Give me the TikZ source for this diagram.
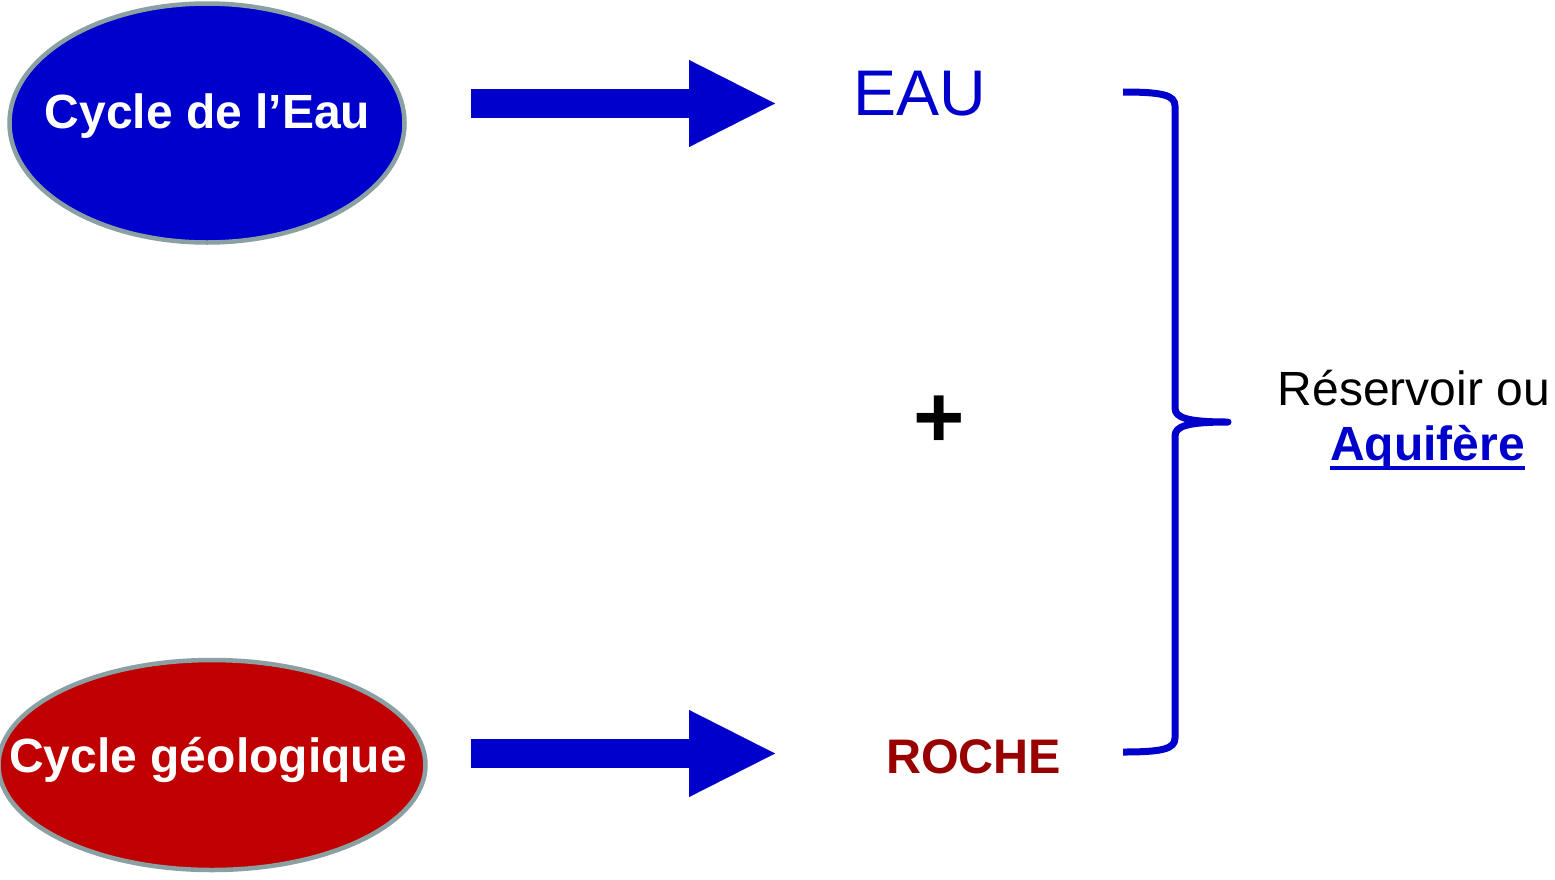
\documentclass[tikz,border=0pt]{standalone}
\usepackage{fontspec}
\setmainfont{Liberation Sans}
\usepackage{tikz}
\usetikzlibrary{shapes.geometric, arrows.meta}

\definecolor{cycblue}{RGB}{0,0,204}
\definecolor{cycred}{RGB}{192,0,0}
\definecolor{rochered}{RGB}{153,0,0}
\definecolor{rimgray}{RGB}{138,160,162}

\begin{document}
\begin{tikzpicture}[x=1pt, y=-1pt,
  cycle/.style={ellipse, draw=rimgray, line width=4.5pt, inner sep=0pt},
  cyclelabel/.style={text=white, font=\bfseries\fontsize{48}{50}\selectfont, inner sep=0pt, anchor=base},
  word/.style={inner sep=0pt, anchor=base west},
  bigarrow/.style={cycblue, line width=29pt, -{Triangle[length=86pt, width=87pt, line width=0.2pt]}}]
  \useasboundingbox (0,0) rectangle (1555,879);

  % the two cycles
  \node[cycle, fill=cycblue, minimum width=395pt, minimum height=239pt] (eau) at (207,123) {};
  \node[cycle, fill=cycred, minimum width=427pt, minimum height=210pt] (geo) at (212,765) {};
  \node[cyclelabel] (eaulbl) at ([xshift=0.5pt, yshift=-5pt]eau.center) {Cycle de l’Eau};
  \node[cyclelabel] (geolbl) at ([xshift=-4pt, yshift=-7pt]geo.center) {Cycle géologique};

  % block arrows
  \coordinate (eauout) at (471,103.5);
  \coordinate (eauin) at (775,103.5);
  \coordinate (geoout) at (471,753.5);
  \coordinate (geoin) at (775,753.5);
  \draw[bigarrow] (eauout) -- (eauin);
  \draw[bigarrow] (geoout) -- (geoin);

  \node[word, text=cycblue, font=\fontsize{64.5}{70}\selectfont] (water) at (853,115) {EAU};
  \node[word, text=rochered, font=\bfseries\fontsize{48.5}{54}\selectfont] (rock) at (886,773) {ROCHE};
  \node[inner sep=0pt, anchor=base, font=\bfseries\fontsize{88}{90}\selectfont] (plus) at (939.5,447) {+};

  % brace
  \draw[cycblue, line width=7pt, line join=round]
    (1123,92) .. controls (1162,92) and (1175,95) .. (1175,106) -- (1175,408)
    .. controls (1175,418) and (1188,422) .. (1228,422)
    .. controls (1188,422) and (1175,426) .. (1175,436) -- (1175,738)
    .. controls (1175,749) and (1162,752) .. (1123,752);

  \node[word, font=\fontsize{48}{52}\selectfont] (resv) at (1277.5,405) {Réservoir ou};
  \node[word, text=cycblue, font=\bfseries\fontsize{48}{50}\selectfont] (aquif) at (1330,460) {Aquifère};
  \draw[cycblue, line width=3.5pt] ([yshift=-8pt]aquif.base west) -- ([yshift=-8pt]aquif.base east);
\end{tikzpicture}
\end{document}
